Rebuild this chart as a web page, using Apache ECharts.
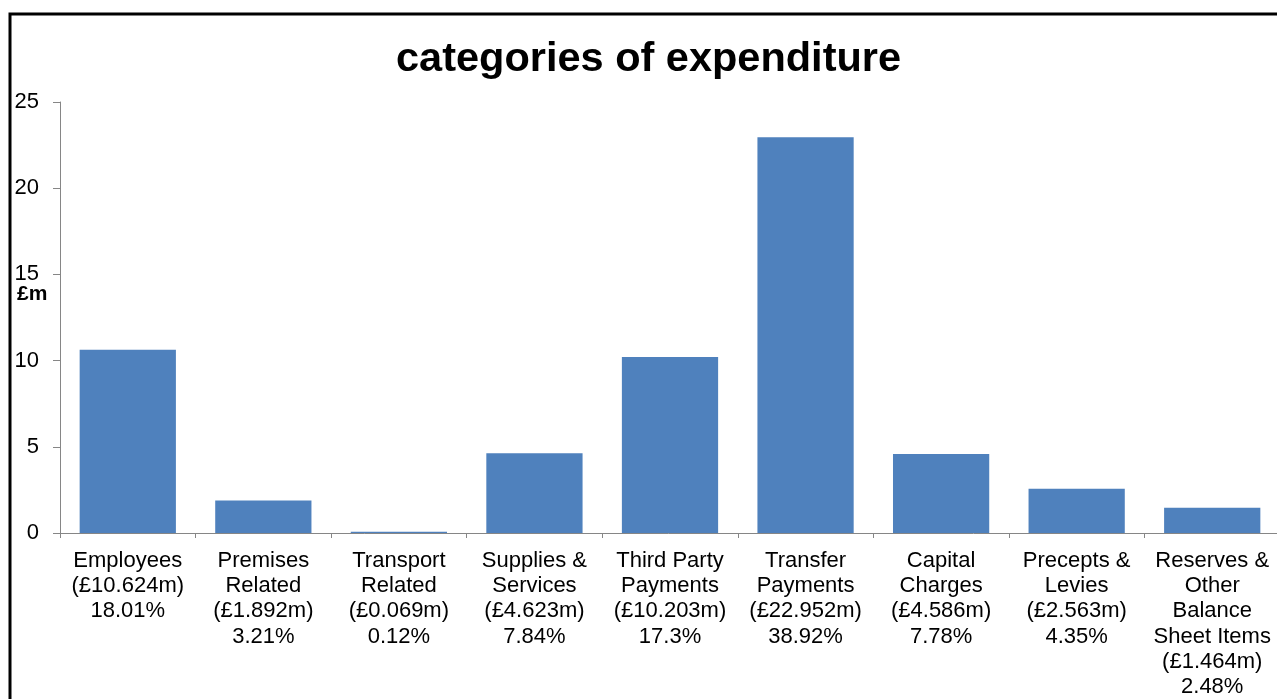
<!DOCTYPE html>
<html>
<head>
<meta charset="utf-8">
<script src="https://cdn.jsdelivr.net/npm/echarts@6/dist/echarts.min.js"></script>
<style>
html,body{margin:0;padding:0;background:#fff;}
#c{width:1277px;height:699px;}
</style>
</head>
<body>
<div id="c"></div>
<script>
const names = ['Employees', 'Premises\nRelated', 'Transport\nRelated', 'Supplies &\nServices', 'Third Party\nPayments', 'Transfer\nPayments', 'Capital\nCharges', 'Precepts &\nLevies', 'Reserves &\nOther\nBalance\nSheet Items'];
const values = [10.624, 1.892, 0.069, 4.623, 10.203, 22.952, 4.586, 2.563, 1.464];
const percents = ['18.01', '3.21', '0.12', '7.84', '17.3', '38.92', '7.78', '4.35', '2.48'];
const yTicks = [0, 5, 10, 15, 20, 25];

const categories = names.map((n, i) => n + '\n(£' + values[i].toFixed(3) + 'm)\n' + percents[i] + '%');

const chart = echarts.init(document.getElementById('c'));
chart.setOption({
  animation: false,
  title: {
    text: 'categories of expenditure',
    left: 391, top: 34,
    textStyle: {fontFamily: 'Liberation Sans, Arial', fontWeight: 'bold', fontSize: 41.5, color: '#000'}
  },
  graphic: [
    {type: 'rect', shape: {x: 10, y: 14, width: 1400, height: 800}, style: {fill: 'none', stroke: '#000', lineWidth: 3}, silent: true},
    {type: 'text', left: 17, top: 284, style: {text: '£m', font: 'bold 21px "Liberation Sans", Arial', fill: '#000'}}
  ],
  grid: {left: 60, right: -3, top: 102, bottom: 166, outerBoundsMode: 'none', containLabel: false},
  xAxis: {
    type: 'category',
    data: categories,
    axisLine: {lineStyle: {color: '#868686', width: 1}},
    axisTick: {show: true, alignWithLabel: false, length: 5, lineStyle: {color: '#868686'}},
    axisLabel: {interval: 0, margin: 15, color: '#000', fontFamily: 'Liberation Sans, Arial', fontSize: 22, lineHeight: 25.3, align: 'center'}
  },
  yAxis: {
    type: 'value',
    min: yTicks[0], max: yTicks[yTicks.length - 1], interval: 5,
    splitLine: {show: false},
    axisLine: {show: true, lineStyle: {color: '#868686', width: 1}},
    axisTick: {show: true, length: 7, lineStyle: {color: '#868686'}},
    axisLabel: {margin: 21, color: '#000', fontFamily: 'Liberation Sans, Arial', fontSize: 22}
  },
  series: [{
    type: 'bar',
    data: values,
    barCategoryGap: '29%',
    itemStyle: {color: '#4F81BD'}
  }]
});
</script>
</body>
</html>
